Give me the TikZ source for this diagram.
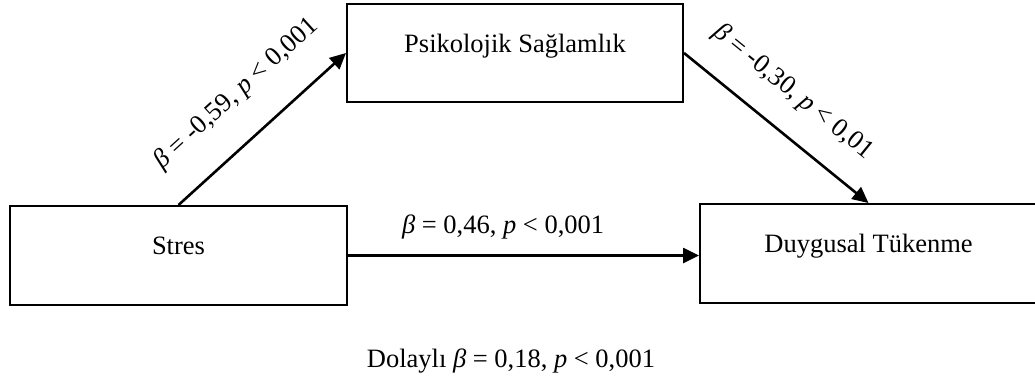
\documentclass[tikz,border=0pt]{standalone}
\usepackage{fontspec}
\setmainfont{Liberation Serif}
\usetikzlibrary{arrows.meta}
\begin{document}
\begin{tikzpicture}[x=1pt,y=-1pt,
  every node/.style={font=\fontsize{26.5}{32}\selectfont},
  varbox/.style={draw, line width=2pt, inner sep=0pt, text height=48pt,
    text depth=51pt, minimum width=337pt},
  link/.style={line width=2.6pt, -{Triangle[length=16pt,width=15pt]}},
  coef/.style={inner sep=0pt, sloped}]
  \useasboundingbox (0,0) rectangle (1035,383);

  % variables of the mediation model
  \node[varbox] (stres) at (178.5,255.5) {Stres};
  \node[varbox, text depth=50pt, minimum width=336pt] (psik) at (515,53) {Psikolojik Sağlamlık};
  \node[varbox] (duyg) at (868.5,253.5) {Duygusal Tükenme};

  % paths with their coefficients
  \draw[link] (stres.north) -- (psik.west)
    node[coef, pos=0.52, above=30pt] (a) {\textit{β} = -0,59, \textit{p} < 0,001};
  \draw[link] (psik.east) -- (duyg.north)
    node[coef, pos=0.46, above=25pt] (b) {\textit{β} = -0,30, \textit{p} < 0,01};
  \draw[link] (stres.east) -- (stres.east -| duyg.west)
    node[pos=0.442, anchor=base, yshift=22pt, inner sep=0pt] (c) {\textit{β} = 0,46, \textit{p} < 0,001};

  % indirect effect
  \node[anchor=base, inner sep=0pt] (ind) at (511,367) {Dolaylı \textit{β} = 0,18, \textit{p} < 0,001};
\end{tikzpicture}
\end{document}
